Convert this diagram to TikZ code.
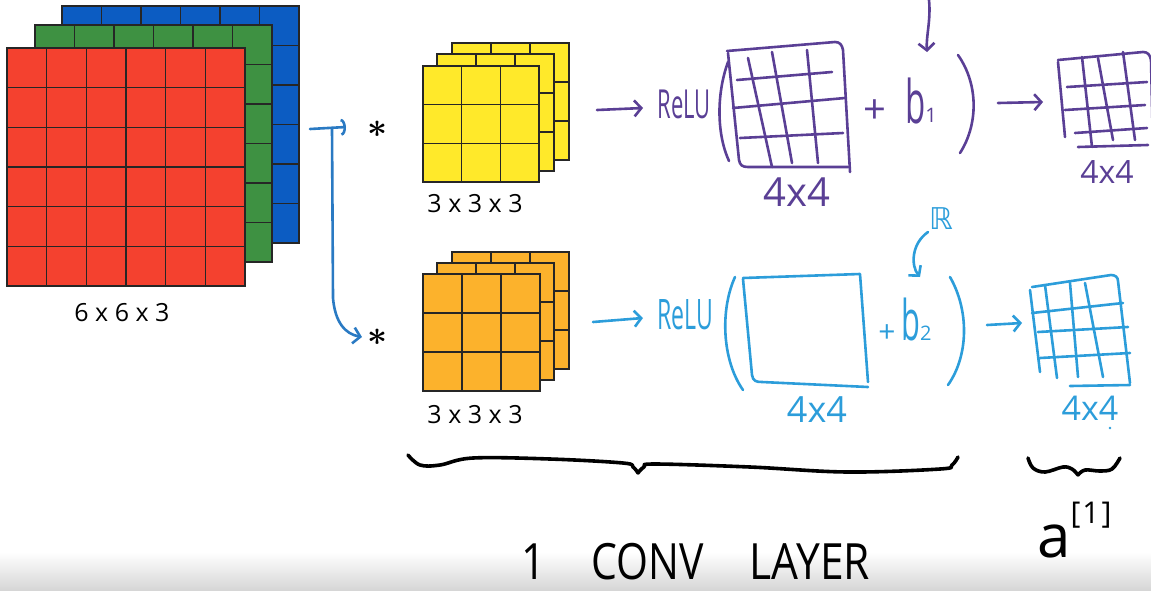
\documentclass[tikz,border=0pt]{standalone}
\usepackage{fontspec}
\setmainfont{Open Sans}
\newfontfamily\symfont{DejaVu Sans}
\usetikzlibrary{arrows.meta}
\definecolor{cred}{HTML}{F4412F}
\definecolor{cgreen}{HTML}{3E9142}
\definecolor{cblue}{HTML}{0C5CC2}
\definecolor{cyel}{HTML}{FFE92A}
\definecolor{corange}{HTML}{FCB22C}
\definecolor{purp}{HTML}{5A3F95}
\definecolor{lblue}{HTML}{2C9DDA}
\definecolor{dblue}{HTML}{2A7AC3}
\newcommand{\squaregrid}[5]{%
  \filldraw[fill=#5,gridline] (#1,#2) rectangle ++(#3,#3);
  \pgfmathtruncatemacro\gridm{#4-1}%
  \foreach \k in {1,...,\gridm}{%
    \draw[gridline] ({#1+\k*#3/#4},#2) -- ++(0,#3);
    \draw[gridline] (#1,{#2+\k*#3/#4}) -- ++(#3,0);
  }%
}
\newcommand{\bigstar}{\fontsize{12}{12}\selectfont\scalebox{2.9}{\boldmath$\ast$}}
\begin{document}
\begin{tikzpicture}[x=1pt,y=-1pt,
  gridline/.style={draw=black!85,line width=1.4pt},
  lab/.style={font=\fontsize{25}{28}\selectfont,inner sep=0pt},
  starnode/.style={inner sep=0pt},
  pen/.style={line width=2.6pt,line cap=round,line join=round},
  purpen/.style={pen,draw=purp},
  bluepen/.style={pen,draw=lblue},
  dbluepen/.style={pen,draw=dblue},
  blackpen/.style={line width=3.6pt,line cap=round,line join=round,draw=black},
  barb/.style={-{Straight Barb[length=7pt,width=16pt]}},
  hand/.style={inner sep=0pt},
]
\useasboundingbox (0,0) rectangle (1151,590);
\shade[top color=white,bottom color=black!16] (0,552) rectangle (1151,590);

% input volume 6x6x3
\squaregrid{62}{6}{237}{6}{cblue}
\squaregrid{35}{25}{237}{6}{cgreen}
\squaregrid{7}{48}{238}{6}{cred}
\node[lab] (inlab) at (122,313) {6 x 6 x 3};

% filters
\squaregrid{452}{43}{117}{3}{cyel}
\squaregrid{437}{54}{117}{3}{cyel}
\squaregrid{423}{66}{116}{3}{cyel}
\node[lab] (k1lab) at (475,204) {3 x 3 x 3};
\squaregrid{452}{252}{117}{3}{corange}
\squaregrid{437}{263}{117}{3}{corange}
\squaregrid{423}{274}{117}{3}{corange}
\node[lab] (k2lab) at (475,415) {3 x 3 x 3};

\node[starnode] (star1) at (377,129) {\bigstar};
\node[starnode] (star2) at (377,337) {\bigstar};

% split connectors
\coordinate (split) at (310,129);
\coordinate (tip1) at (346,127);
\coordinate (vtop) at (332,128);
\coordinate (tip2) at (362,337);
\draw[dbluepen,-{Arc Barb[length=5pt,width=17pt]}] (split) -- (tip1);
\draw[dbluepen,barb] (vtop) -- (333,298) .. controls (335,322) and (345,334) .. (tip2);

% ---------- top row (purple) ----------
\coordinate (a1s) at (597,110);
\coordinate (a1e) at (643,108);
\draw[purpen,barb] (a1s) -- (a1e);
\node[hand,text=purp] (relu1) at (684,104) {\scalebox{0.55}[1]{\fontsize{40}{40}\selectfont ReLU}};
\draw[purpen] (728,62) .. controls (716,95) and (717,135) .. (729,161);
\draw[purpen] (727,51) -- (835,42) .. controls (840,42) and (842,45) .. (843,50) -- (850,172);
\draw[purpen] (728,53) -- (739,160) .. controls (740,165) and (742,167) .. (748,167) -- (848,167);
\draw[purpen] (737,80) -- (832,72) (733,108) -- (845,98) (740,138) -- (843,133);
\draw[purpen] (748,58) -- (772,167) (772,52) -- (792,163) (807,50) -- (818,163);
\node[hand,text=purp] (sz1) at (797,192) {\fontsize{40}{40}\selectfont 4x4};
\node[hand,text=purp] (plus1) at (875,112) {\fontsize{40}{40}\selectfont +};
\node[hand,text=purp,anchor=base west] (b1) at (905,123) {\scalebox{0.55}[1]{\fontsize{60}{60}\selectfont b}\raisebox{1pt}{\fontsize{20}{20}\selectfont 1}};
\draw[purpen] (958,55) .. controls (979,85) and (978,125) .. (960,153);
\coordinate (ptop) at (929,0);
\coordinate (pbot) at (927,52);
\draw[purpen,barb] (ptop) .. controls (931,20) and (926,36) .. (pbot);
\coordinate (a2s) at (998,103);
\coordinate (a2e) at (1043,102);
\draw[purpen,barb] (a2s) -- (a2e);
\draw[purpen] (1058,60) -- (1143,52) .. controls (1148,52) and (1150,55) .. (1151,60) -- (1153,150);
\draw[purpen] (1058,62) -- (1065,137);
\draw[purpen] (1078,147) -- (1148,145);
\draw[purpen] (1067,87) -- (1147,82) (1065,110) -- (1145,105) (1075,133) -- (1147,128);
\draw[purpen] (1082,57) -- (1092,147) (1098,58) -- (1113,140) (1123,52) -- (1135,140);
\node[hand,text=purp] (sz1b) at (1107,172) {\fontsize{32}{32}\selectfont 4x4};

% ---------- bottom row (light blue) ----------
\coordinate (b1s) at (593,322);
\coordinate (b1e) at (643,318);
\draw[bluepen,barb] (b1s) -- (b1e);
\node[hand,text=lblue] (relu2) at (685,315) {\scalebox{0.55}[1]{\fontsize{42}{42}\selectfont ReLU}};
\draw[bluepen] (735,277) .. controls (720,310) and (722,360) .. (743,390);
\draw[bluepen] (743,278) -- (860,274) -- (868,382);
\draw[bluepen] (743,279) -- (752,375) .. controls (753,381) and (756,382) .. (762,382) -- (868,387);
\node[hand,text=lblue] (sz2) at (817,410) {\fontsize{36}{36}\selectfont 4x4};
\node[hand,text=lblue] (plus2) at (887,334) {\fontsize{30}{30}\selectfont +};
\node[hand,text=lblue,anchor=base west] (b2) at (901,340) {\scalebox{0.55}[1]{\fontsize{56}{56}\selectfont b}\raisebox{0pt}{\fontsize{20}{20}\selectfont 2}};
\draw[bluepen] (950,277) .. controls (969,310) and (969,355) .. (948,385);
\node[hand,text=lblue] (rr) at (941,219) {\symfont\fontsize{30}{30}\selectfont ℝ};
\coordinate (rtop) at (928,232);
\coordinate (rbot) at (920,277);
\draw[bluepen,barb] (rtop) .. controls (911,244) and (911,266) .. (rbot);
\coordinate (b2s) at (987,325);
\coordinate (b2e) at (1022,323);
\draw[bluepen,barb] (b2s) -- (b2e);
\draw[bluepen] (1032,287) -- (1111,275) .. controls (1115,275) and (1118,277) .. (1118,281) -- (1130,383);
\draw[bluepen] (1030,290) -- (1040,372);
\draw[bluepen] (1070,386) -- (1130,385);
\draw[bluepen] (1032,313) -- (1123,303) (1038,332) -- (1128,327) (1040,358) -- (1130,353);
\draw[bluepen] (1045,285) -- (1057,378) (1070,283) -- (1078,377) (1085,283) -- (1103,377);
\node[hand,text=lblue] (sz2b) at (1090,408) {\fontsize{34}{34}\selectfont 4x4};
\fill[lblue] (1110,428) circle (1.4pt);

% ---------- braces ----------
\coordinate (br1tip) at (638,473);
\draw[blackpen] plot[smooth,tension=0.6] coordinates {(408,455) (420,465) (440,465) (473,458) (550,459) (623,463) (633,467) (638,473)};
\draw[blackpen] plot[smooth,tension=0.6] coordinates {(638,473) (644,467) (655,464) (750,467) (847,472) (940,469) (952,465) (958,457)};
\coordinate (br2tip) at (1078,475);
\draw[blackpen] plot[smooth,tension=0.6] coordinates {(1028,458) (1033,468) (1045,472) (1063,467) (1072,469) (1078,475)};
\draw[blackpen] plot[smooth,tension=0.6] coordinates {(1078,475) (1085,470) (1100,471) (1112,469) (1120,458)};

\node[hand,anchor=base west] (layer) at (521,579) {\fontsize{50}{50}\selectfont\scalebox{0.85}[1]{1}\hspace{46pt}\scalebox{0.82}[1]{CONV}\hspace{46pt}\scalebox{0.85}[1]{LAYER}};
\node[hand,anchor=base west] (act) at (1037,557) {\fontsize{60}{60}\selectfont a\raisebox{34pt}{\fontsize{30}{30}\selectfont [\hspace{2pt}1\hspace{2pt}]}};
\end{tikzpicture}
\end{document}
